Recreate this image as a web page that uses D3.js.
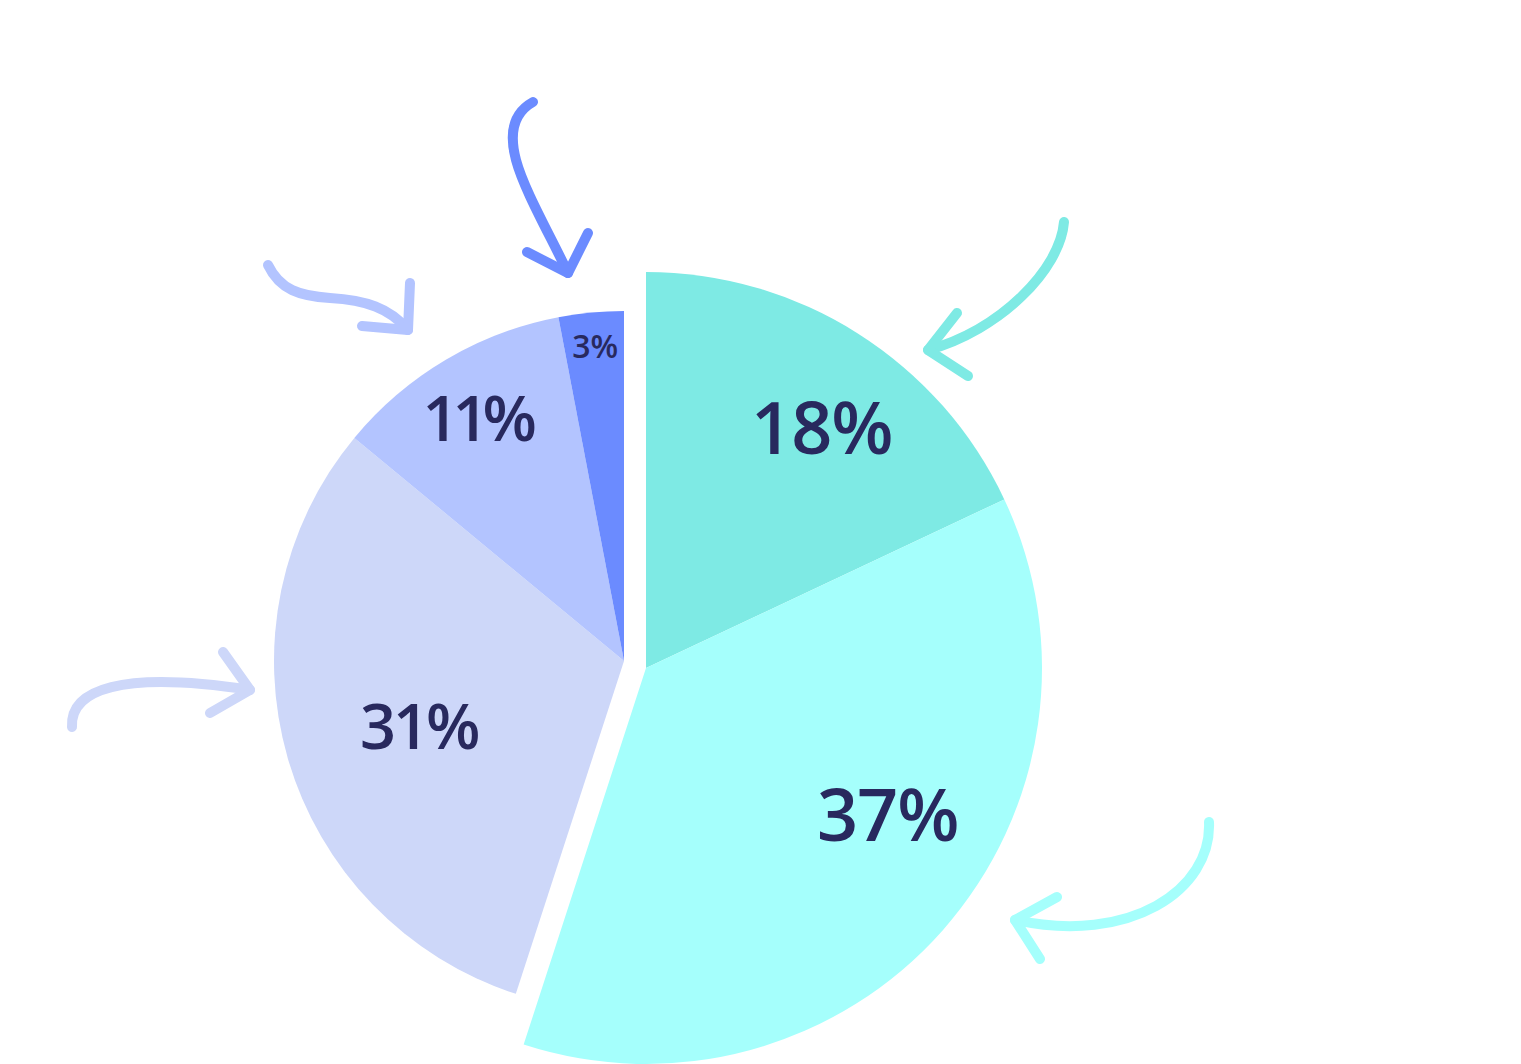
<!DOCTYPE html>
<html>
<head>
<meta charset="utf-8">
<script src="https://cdn.jsdelivr.net/npm/d3@7"></script>
<style>
  html, body { margin: 0; padding: 0; background: #ffffff; }
  svg { display: block; }
</style>
</head>
<body>
<svg id="chart" width="1521" height="1064"></svg>
<script>
// ---- data ----
const values = [18, 37, 31, 11, 3];
const labels = ["18%", "37%", "31%", "11%", "3%"];
const colors = ["#7EEAE4", "#A5FFFC", "#CDD7F9", "#B3C4FF", "#6B8BFF"];
// which group (0 = exploded right group, 1 = left group)
const group = [0, 0, 1, 1, 1];

// ---- layout ----
const W = 1521, H = 1064;
const groups = [
  { cx: 646, cy: 668, r: 396 },
  { cx: 624, cy: 661, r: 350 }
];
// label placement: [angle in degrees clockwise from top, distance from centre]
const labelPolar = [[36, 299], [121, 282], [252.7, 215], [328.9, 285], [354.8, 317]];
const labelSize = [72, 72, 63, 63, 32];
const labelSpacing = [-1, -1, -3, -6, 0];

const svg = d3.select("#chart");

const pie = d3.pie().sort(null).value(d => d).startAngle(0).endAngle(2 * Math.PI);
const arcs = pie(values);

svg.selectAll("path.slice")
  .data(arcs)
  .join("path")
  .attr("class", "slice")
  .attr("transform", (d, i) => `translate(${groups[group[i]].cx},${groups[group[i]].cy})`)
  .attr("d", (d, i) => d3.arc().innerRadius(0).outerRadius(groups[group[i]].r)(d))
  .attr("fill", (d, i) => colors[i]);

svg.selectAll("text.lbl")
  .data(arcs)
  .join("text")
  .attr("class", "lbl")
  .attr("x", (d, i) => groups[group[i]].cx + labelPolar[i][1] * Math.sin(labelPolar[i][0] * Math.PI / 180))
  .attr("y", (d, i) => groups[group[i]].cy - labelPolar[i][1] * Math.cos(labelPolar[i][0] * Math.PI / 180))
  .attr("text-anchor", "middle")
  .attr("dominant-baseline", "central")
  .attr("font-family", "'Open Sans', 'Noto Sans', sans-serif")
  .attr("font-weight", 600)
  .attr("font-size", (d, i) => labelSize[i])
  .attr("letter-spacing", (d, i) => labelSpacing[i])
  .attr("fill", "#28295E")
  .text((d, i) => labels[i]);

// ---- decorative hand-drawn arrows ----
const arrows = [
  { c: 0, body: "M1064,222 C1060,270 1000,330 928,350", head: "M957,313 L928,350 L968,376" },
  { c: 1, body: "M1209,822 C1212,890 1130,945 1015,920", head: "M1057,897 L1015,920 L1040,959" },
  { c: 2, body: "M72,727 C70,690 120,670 250,690", head: "M223,652 L250,690 L210,713" },
  { c: 3, body: "M268,265 C280,290 300,296 330,298 C365,300 390,308 408,330", head: "M362,326 L408,330 L410,283" },
  { c: 4, body: "M533,102 C515,112 508,130 516,160 C524,190 550,235 568,273", head: "M527,252 L568,273 L588,233" }
];
const ag = svg.append("g").attr("fill", "none").attr("stroke-width", 10)
  .attr("stroke-linecap", "round").attr("stroke-linejoin", "round");
arrows.forEach(a => {
  ag.append("path").attr("d", a.body).attr("stroke", colors[a.c]);
  ag.append("path").attr("d", a.head).attr("stroke", colors[a.c]);
});
</script>
</body>
</html>
